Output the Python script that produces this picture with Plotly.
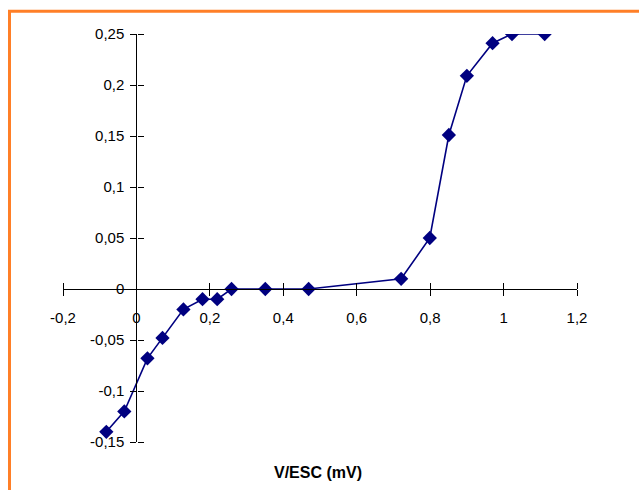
import plotly.graph_objects as go

# Data
v_esc = [-0.082, -0.033, 0.030, 0.071, 0.128, 0.180, 0.220, 0.259, 0.351, 0.469,
         0.721, 0.799, 0.851, 0.900, 0.970, 1.023, 1.112]
current = [-0.140, -0.120, -0.068, -0.048, -0.020, -0.010, -0.010, 0.0, 0.0, 0.0,
           0.010, 0.050, 0.151, 0.209, 0.241, 0.250, 0.250]

x_tickvals = [-0.2, 0, 0.2, 0.4, 0.6, 0.8, 1.0, 1.2]
x_ticktext = ["-0,2", "0", "0,2", "0,4", "0,6", "0,8", "1", "1,2"]
y_tickvals = [-0.15, -0.1, -0.05, 0, 0.05, 0.1, 0.15, 0.2, 0.25]
y_ticktext = ["-0,15", "-0,1", "-0,05", "0", "0,05", "0,1", "0,15", "0,2", "0,25"]

x_range = [-0.2, 1.2]
y_range = [-0.15, 0.25]

# position of crossing axes (fraction of plot area)
x_axis_pos = (0 - y_range[0]) / (y_range[1] - y_range[0])
y_axis_pos = (0 - x_range[0]) / (x_range[1] - x_range[0])

FONT = "Liberation Sans, Arial, sans-serif"
NAVY = "#000080"

fig = go.Figure()
fig.add_trace(go.Scatter(
    x=v_esc, y=current, mode="lines+markers",
    line=dict(color=NAVY, width=1.6),
    marker=dict(symbol="diamond", size=11, color=NAVY),
    showlegend=False, hoverinfo="x+y",
))
# twin trace (transparent) on the mirrored axes that give the other half of the crossing ticks
fig.add_trace(go.Scatter(
    x=v_esc, y=current, mode="lines", xaxis="x2", yaxis="y2",
    line=dict(width=1, color="rgba(0,0,0,0)"), showlegend=False, hoverinfo="skip",
))

common = dict(showgrid=False, zeroline=False, showline=True, linecolor="black",
              linewidth=1.3, tickcolor="black", tickwidth=1.3, ticklen=6)

fig.update_layout(
    width=639, height=490,
    margin=dict(l=63, r=62, t=34, b=48),
    paper_bgcolor="white", plot_bgcolor="white",
    separators=", ",
    font=dict(family=FONT, size=15, color="black"),
    xaxis=dict(range=x_range, tickvals=x_tickvals, ticktext=x_ticktext,
               anchor="free", position=x_axis_pos, side="bottom", ticks="outside",
               ticklabelstandoff=9, **common),
    yaxis=dict(range=y_range, tickvals=y_tickvals, ticktext=y_ticktext,
               anchor="free", position=y_axis_pos, side="left", ticks="outside",
               ticklabelstandoff=3, **common),
    xaxis2=dict(range=x_range, tickvals=x_tickvals, overlaying="x",
                anchor="free", position=x_axis_pos, side="top", ticks="outside",
                showticklabels=False, **common),
    yaxis2=dict(range=y_range, tickvals=y_tickvals, overlaying="y",
                anchor="free", position=y_axis_pos, side="right", ticks="outside",
                showticklabels=False, **common),
    annotations=[dict(text="<b>V/ESC (mV)</b>", xref="paper", yref="paper",
                      x=(318 - 63) / 514, y=-(472 - 442) / 408,
                      xanchor="center", yanchor="middle", showarrow=False,
                      font=dict(family=FONT, size=16, color="black"))],
    shapes=[dict(type="rect", xref="paper", yref="paper",
                 x0=-(63 - 9.5) / 514, x1=1.3, y0=-0.3, y1=1 + (34 - 11.2) / 408,
                 line=dict(color="#FF7F27", width=3), fillcolor="rgba(0,0,0,0)",
                 layer="below")],
)

fig.write_html("out.html", config={"displayModeBar": False},
               post_script="document.body.style.margin='0px';")
